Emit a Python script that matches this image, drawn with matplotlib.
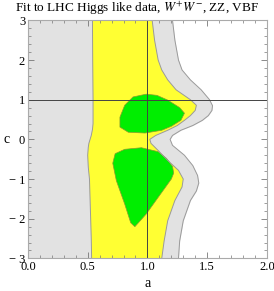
import numpy as np
import matplotlib.pyplot as plt
from matplotlib.ticker import MultipleLocator

# outer (grey) region: right edge a(c), left side runs out past a=0
gray_c = [3.0, 2.5, 2.0, 1.75, 1.5, 1.25, 1.0, 0.85, 0.73, 0.6, 0.48, 0.35, 0.23, 0.1, 0.0,
          -0.15, -0.4, -0.66, -0.91, -1.1, -1.3, -1.54, -2.05, -2.56, -3.0]
gray_a = [1.21, 1.23, 1.26, 1.29, 1.36, 1.45, 1.52, 1.545, 1.54, 1.51, 1.46, 1.38, 1.28, 1.21, 1.19,
          1.21, 1.31, 1.38, 1.42, 1.43, 1.41, 1.36, 1.30, 1.27, 1.26]

# yellow region: left and right edges
yl_c = [3.0, 2.0, 1.0, 0.4, 0.25, 0.1, 0.0, -0.1, -0.2, -0.4, -0.7, -1.0, -1.5, -2.0, -2.5, -3.0]
yl_a = [0.54, 0.542, 0.545, 0.545, 0.54, 0.53, 0.52, 0.51, 0.505, 0.50, 0.505, 0.515, 0.52, 0.525, 0.53, 0.533]
yr_c = [3.0, 2.5, 2.0, 1.75, 1.5, 1.25, 1.0, 0.86, 0.73, 0.6, 0.48, 0.35, 0.23, 0.1, 0.0,
        -0.1, -0.28, -0.53, -0.78, -1.0, -1.2, -1.54, -2.05, -2.56, -3.0]
yr_a = [1.04, 1.06, 1.09, 1.12, 1.17, 1.24, 1.36, 1.41, 1.40, 1.36, 1.31, 1.25, 1.17, 1.07, 1.02,
        1.03, 1.09, 1.17, 1.26, 1.30, 1.29, 1.23, 1.17, 1.14, 1.12]

# green blobs (a, c outline)
g1_a = [0.99, 1.08, 1.17, 1.27, 1.31, 1.28, 1.20, 1.12, 0.98, 0.84, 0.77, 0.77, 0.81, 0.88]
g1_c = [1.14, 1.11, 0.99, 0.80, 0.66, 0.48, 0.33, 0.23, 0.16, 0.18, 0.31, 0.56, 0.86, 1.07]
g2_a = [0.73, 0.81, 0.95, 1.09, 1.16, 1.21, 1.22, 1.20, 1.09, 0.99, 0.895, 0.86, 0.81, 0.74, 0.71]
g2_c = [-0.36, -0.25, -0.21, -0.31, -0.48, -0.68, -0.85, -1.0, -1.46, -1.88, -2.2, -2.1, -1.63, -1.04, -0.6]

xticks = [0.0, 0.5, 1.0, 1.5, 2.0]
xlabels = ['0.0', '0.5', '1.0', '1.5', '2.0']
yticks = [-3, -2, -1, 0, 1, 2, 3]
ylabels = ['\u2212 3', '\u2212 2', '\u2212 1', '0', '1', '2', '3']

plt.rcParams['font.family'] = ['Liberation Serif', 'DejaVu Serif']

fig = plt.figure(figsize=(2.74, 2.91), dpi=100)
ax = fig.add_axes([0.102, 0.112, 0.872, 0.818])

edge = '#9a9a9a'
ax.fill_betweenx(gray_c, -0.2, gray_a, color='#e2e2e2', lw=0)
ax.plot(gray_a, gray_c, color=edge, lw=0.7)

ya = np.concatenate([yl_a, yr_a[::-1]])
yc = np.concatenate([yl_c, yr_c[::-1]])
ax.fill(ya, yc, color='#ffff33', lw=0)
ax.plot(yl_a, yl_c, color=edge, lw=0.7)
ax.plot(yr_a, yr_c, color=edge, lw=0.7)

ax.fill(g1_a, g1_c, facecolor='#00ee00', edgecolor='#8a9a30', lw=0.5)
ax.fill(g2_a, g2_c, facecolor='#00ee00', edgecolor='#8a9a30', lw=0.5)

ax.axvline(1.0, color='#444444', lw=0.7)
ax.axhline(1.0, color='#444444', lw=0.7)

ax.set_xlim(0, 2)
ax.set_ylim(-3, 3)
ax.set_xticks(xticks)
ax.set_xticklabels(xlabels)
ax.set_yticks(yticks)
ax.set_yticklabels(ylabels)
ax.xaxis.set_minor_locator(MultipleLocator(0.1))
ax.yaxis.set_minor_locator(MultipleLocator(0.2))
ax.tick_params(which='both', direction='in', top=True, right=True, color='#777777',
               labelsize=9, pad=2)
ax.tick_params(which='major', length=4, width=0.6)
ax.tick_params(which='minor', length=2, width=0.5)
for s in ax.spines.values():
    s.set_color('#aaaaaa')
    s.set_linewidth(0.8)

fig.text(0.538, 0.027, 'a', ha='center', va='center', fontsize=10)
fig.text(0.025, 0.52, 'c', ha='center', va='center', fontsize=10)
fig.text(0.5, 0.972, 'Fit to LHC Higgs like data, $W^{+}W^{-}$, ZZ, VBF',
         ha='center', va='center', fontsize=9.5, math_fontfamily='stix')

fig.savefig('out.png', dpi=100)
